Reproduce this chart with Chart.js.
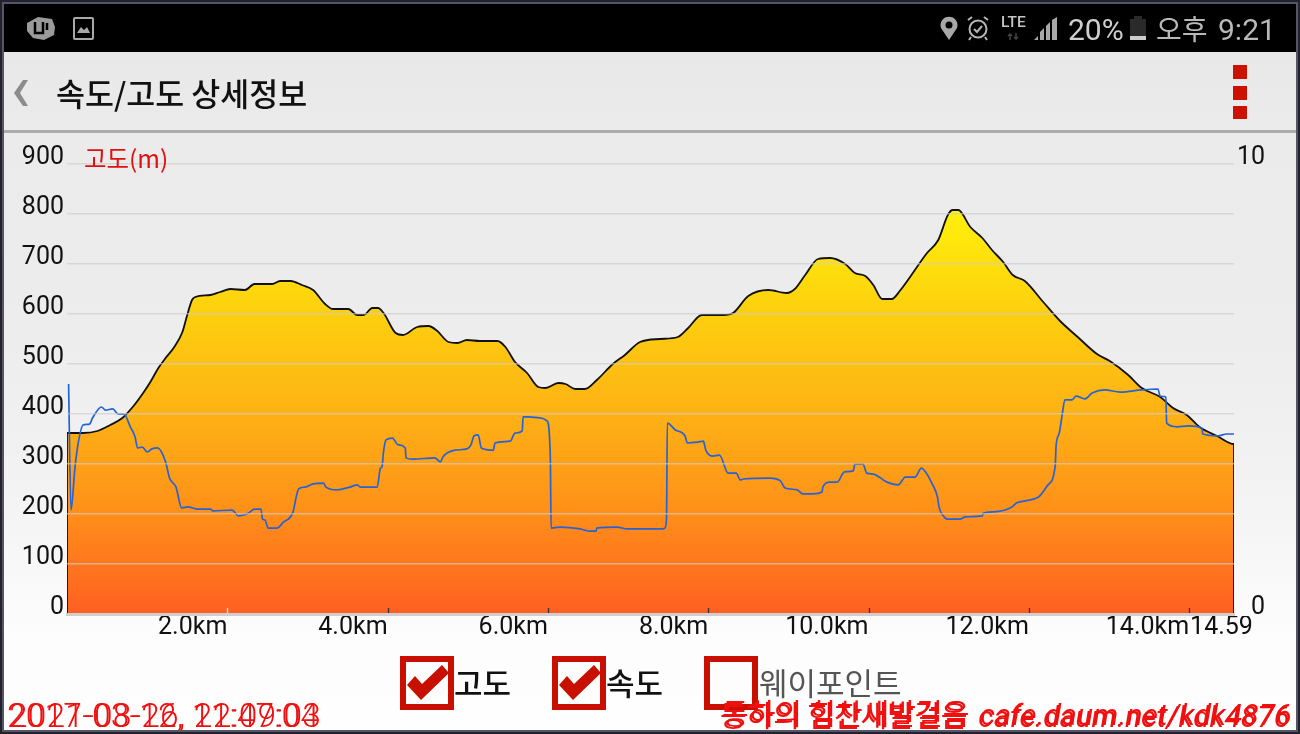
<!DOCTYPE html>
<html><head><meta charset="utf-8">
<script src="https://cdn.jsdelivr.net/npm/chart.js@4"></script>
<style>
html,body{margin:0;padding:0;width:1300px;height:734px;overflow:hidden;background:#fff;font-family:Roboto,"Noto Sans CJK KR",sans-serif}
#bg{position:absolute;left:0;top:0;width:1300px;height:734px;background:linear-gradient(180deg,#e8e8e8 0,#e8e8e8 52px,#ebebeb 131px,#ececec 300px,#f2f2f2 480px,#fdfdfd 640px,#fefefe 734px)}
#status{position:absolute;left:0;top:0;width:1300px;height:52px;background:#000}
#hline{position:absolute;left:0;top:130px;width:1300px;height:3px;background:#acacac}
#frame{position:absolute;left:0;top:0;width:1300px;height:734px;box-sizing:border-box;border:2px solid #22222c;box-shadow:inset 0 0 0 2px #55556a;pointer-events:none;z-index:5}
canvas{position:absolute;left:0;top:0}
.t{position:absolute;white-space:nowrap;line-height:1}
.kr{font-family:'Noto Sans CJK KR'}
.box{position:absolute;top:656px;width:54px;height:54px;box-sizing:border-box;border:6px solid #c80f00}
svg{position:absolute;overflow:visible}
.wm{color:#f01010;font-size:29px;font-family:Roboto,'Noto Sans CJK KR'}
.wm i{font-style:italic;font-weight:400;margin-left:11px;letter-spacing:.6px}
</style></head><body>
<div id="bg"></div><div id="status"></div><div id="hline"></div>
<canvas id="c" width="1300" height="734"></canvas>

<svg style="left:0;top:0" width="1300" height="134">
 <path d="M27 23 L38 17 L52 19 L55 27 L54 35 L44 40 L33 38 L27 31Z" fill="#9a9a9a"/><path d="M35 22v11h8V22M47 23v7" stroke="#000" stroke-width="2.5" fill="none"/>
 <rect x="74" y="18" width="19" height="21" rx="1" fill="none" stroke="#a8a8a8" stroke-width="2"/><path d="M77 33 L81 27 L84 30 L87 27 L90 33Z" fill="#a8a8a8"/>
 <path d="M949 40 L941 28 A8.5 8.5 0 1 1 957 28Z" fill="#a8a8a8"/><circle cx="949" cy="25" r="3.5" fill="#000"/>
 <circle cx="978" cy="29" r="8.5" fill="none" stroke="#b5b5b5" stroke-width="2"/><path d="M974 29l3 3 5-6M968 20l4-3M988 20l-4-3M971 37l-2 3M985 37l2 3" stroke="#b5b5b5" stroke-width="2" fill="none"/>
 <path d="M1010 40v-6M1008 36l2-2 2 2M1016 33v6M1014 37l2 2 2-2" stroke="#444" stroke-width="1.5" fill="none"/>
 <path d="M1034 40 L1038 36 V40Z M1040 40 V32 L1044 28 V40Z M1046 40 V26 L1050 22 V40Z M1052 40 V20 L1057 17 V40Z" fill="#a8a8a8"/>
 <rect x="1130" y="19" width="16" height="21" fill="#2a2a2a"/><rect x="1134" y="16" width="8" height="3" fill="#2a2a2a"/><rect x="1130" y="36" width="16" height="4" fill="#ccc"/>
 <path d="M23 80 L14 93 L23 106 L28 106 L20 93 L28 80Z" fill="#8c8c8c"/>
 <rect x="1233" y="65" width="14" height="14" fill="#cc1100"/><rect x="1233" y="86" width="14" height="14" fill="#cc1100"/><rect x="1233" y="106" width="14" height="13" fill="#cc1100"/>
</svg>
<div class="t" style="left:1001px;top:15px;font-size:15.5px;font-weight:500;color:#c4c4c4">LTE</div>
<div class="t" style="left:1068px;top:15px;font-size:30px;color:#cfcfcf">20%</div>
<div class="t kr" style="left:1156px;top:14px;font-size:28px;color:#b8b8b8">오후</div>
<div class="t" style="left:1218px;top:15px;font-size:30px;color:#b8b8b8">9:21</div>
<div class="t kr" style="left:56px;top:77px;font-size:31.5px;font-weight:500;color:#111">속도/고도 상세정보</div>
<div class="t kr" style="left:84px;top:146px;font-size:24.5px;color:#e01010">고도(m)</div>

<div class="box" style="left:400px"></div><div class="box" style="left:552px"></div><div class="box" style="left:704px"></div>
<svg style="left:0;top:0" width="1300" height="734">
 <path d="M407 685 L415 676 L422 684 L442 665 L449 673 L421 700Z" fill="#c81000"/>
 <path d="M559 685 L567 676 L574 684 L594 665 L601 673 L573 700Z" fill="#c81000"/>
</svg>
<div class="t kr" style="left:454px;top:666px;font-size:31px;font-weight:500;color:#111">고도</div>
<div class="t kr" style="left:606px;top:666px;font-size:31px;font-weight:500;color:#111">속도</div>
<div class="t kr" style="left:759px;top:666px;font-size:31px;color:#555">웨이포인트</div>

<div class="t" style="left:7px;top:699px;font-size:33.5px;letter-spacing:.2px;color:#f01010;font-weight:300">2017-03-12, 11:47:04</div>
<div class="t" style="left:9px;top:699px;font-size:33.5px;letter-spacing:.2px;color:#f01010;font-weight:300">2021-08-26, 22:09:03</div>
<div class="t wm" style="left:720px;top:703px">동하의 힘찬새발걸음<i>cafe.daum.net/kdk4876</i></div>
<div class="t wm" style="left:722px;top:701px">통하의 힘찬새발걸음<i>cafe.daum.net/kdk4876</i></div>
<div id="frame"></div>

<script>
const altKm=[0,0,0.20,0.38,0.54,0.69,0.83,0.95,1.04,1.14,1.23,1.33,1.44,1.50,1.56,1.60,1.79,1.91,2.04,2.22,2.34,2.56,2.66,2.79,2.93,3.07,3.22,3.32,3.41,3.51,3.62,3.70,3.81,3.88,3.95,4.10,4.19,4.37,4.51,4.62,4.76,4.87,4.99,5.15,5.37,5.47,5.59,5.74,5.88,5.97,6.13,6.22,6.34,6.46,6.61,6.81,6.96,7.15,7.40,7.62,7.75,7.92,8.19,8.31,8.50,8.75,8.98,9.08,9.21,9.37,9.52,9.71,9.83,9.96,10.06,10.17,10.29,10.39,10.73,10.87,10.99,11.05,11.12,11.27,11.42,11.54,11.68,11.80,11.95,12.18,12.39,12.61,12.85,13.01,13.24,13.41,13.64,13.80,13.97,14.13,14.35,14.56,14.56];
const altM=[0,362,362,366,378,392,416,442,464,492,512,532,564,598,628,634,638,644,650,648,660,660,666,666,658,648,620,610,610,610,598,598,612,612,602,562,558,574,576,566,544,542,548,546,546,534,504,482,454,452,462,460,450,450,468,500,518,544,550,554,572,598,598,602,636,648,642,650,678,710,712,700,682,676,658,630,630,646,722,748,798,808,808,774,752,728,704,678,666,624,586,554,520,506,478,452,434,412,398,374,356,340,0];
const speedKm=[0.02,0.05,0.10,0.14,0.20,0.28,0.32,0.43,0.48,0.57,0.64,0.71,0.79,0.85,0.88,0.94,1.00,1.06,1.13,1.23,1.28,1.36,1.43,1.51,1.63,1.79,1.82,2.06,2.14,2.26,2.34,2.42,2.44,2.47,2.51,2.62,2.70,2.82,2.86,2.89,2.97,3.07,3.20,3.23,3.37,3.53,3.62,3.66,3.87,3.91,3.93,3.95,3.98,4.06,4.13,4.22,4.23,4.31,4.59,4.66,4.69,4.84,4.99,5.04,5.08,5.13,5.17,5.32,5.34,5.53,5.59,5.68,5.69,5.75,5.90,5.99,6.03,6.04,6.15,6.40,6.53,6.60,6.61,6.86,6.99,7.43,7.46,7.48,7.49,7.59,7.71,7.74,7.87,7.94,7.97,8.05,8.14,8.25,8.35,8.40,8.44,8.77,8.90,8.96,9.11,9.18,9.31,9.42,9.43,9.52,9.61,9.70,9.81,9.83,9.93,9.98,10.06,10.23,10.37,10.46,10.58,10.66,10.71,10.79,10.86,10.88,10.96,10.98,11.14,11.21,11.42,11.43,11.56,11.79,11.85,12.12,12.24,12.33,12.34,12.38,12.42,12.45,12.54,12.59,12.70,12.79,12.95,13.14,13.41,13.61,13.64,13.71,13.72,13.85,13.99,14.16,14.17,14.36,14.47,14.56];
const speedV=[5.11,2.31,3.27,3.80,4.20,4.22,4.36,4.60,4.53,4.56,4.44,4.44,4.16,3.93,3.69,3.71,3.60,3.67,3.69,3.38,3.02,2.82,2.36,2.38,2.33,2.33,2.29,2.31,2.18,2.24,2.33,2.33,2.11,2.09,1.91,1.91,2.04,2.27,2.60,2.78,2.82,2.89,2.91,2.82,2.76,2.82,2.87,2.82,2.82,3.24,3.27,3.62,3.87,3.91,3.76,3.69,3.47,3.44,3.47,3.38,3.49,3.64,3.67,3.76,3.96,3.98,3.69,3.64,3.80,3.84,4.02,4.07,4.38,4.38,4.36,4.29,3.49,1.91,1.93,1.89,1.84,1.84,1.91,1.93,1.89,1.89,1.91,2.13,4.24,4.09,3.96,3.80,3.82,3.84,3.64,3.51,3.53,3.13,3.13,2.98,3.00,3.02,2.96,2.80,2.76,2.67,2.67,2.71,2.82,2.93,2.93,3.16,3.18,3.33,3.33,3.13,3.11,2.93,2.87,3.04,3.04,3.24,3.16,2.91,2.60,2.38,2.13,2.11,2.11,2.16,2.18,2.24,2.27,2.38,2.47,2.60,2.87,3.31,3.73,4.02,4.47,4.76,4.76,4.84,4.78,4.91,4.98,4.93,4.98,5.00,4.84,4.82,4.24,4.16,4.18,4.13,4.00,3.96,4.00,4.00];
const xTicks=[2,4,6,8,10,12,14];
const xMax=14.56, endLabel='14.59km';
const font={family:'Roboto,"Noto Sans CJK KR"',size:25};

const altGradient=c=>{
  const a=c.chart.chartArea; if(!a) return '#fc0';
  const y=c.chart.scales.y;
  const g=c.chart.ctx.createLinearGradient(0,y.getPixelForValue(808),0,y.getPixelForValue(0));
  g.addColorStop(0,'#fff00a');g.addColorStop(.25,'#fdd00e');g.addColorStop(.5,'#feb214');g.addColorStop(.75,'#ff8f19');g.addColorStop(1,'#ff5f22');
  return g;
};
const axisMarks={id:'axisMarks',afterDraw(ch){
  const {ctx,scales:{x},chartArea:a}=ch;
  ctx.save();
  xTicks.forEach((v,i)=>{
    const p=Math.round(x.getPixelForValue(v))+.5;
    ctx.strokeStyle=i===0?'#e8e8e8':'#333';ctx.lineWidth=1.3;
    ctx.beginPath();ctx.moveTo(p,a.bottom-6);ctx.lineTo(p,a.bottom-1);ctx.stroke();
  });
  ctx.beginPath();ctx.rect(1150,a.bottom+2,104,40);ctx.clip();
  ctx.font='25px Roboto';ctx.fillStyle='#111';ctx.textAlign='left';ctx.textBaseline='alphabetic';
  ctx.fillText(endLabel,x.getPixelForValue(14)+1,634);
  ctx.restore();
}};
new Chart(document.getElementById('c'),{
  type:'line',
  data:{datasets:[
    {label:'속도',yAxisID:'y2',order:0,data:speedKm.map((k,i)=>({x:k,y:speedV[i]})),borderColor:'#2563d6',borderWidth:1.7,pointRadius:0,cubicInterpolationMode:'monotone',fill:false},
    {label:'고도',yAxisID:'y',order:1,data:altKm.map((k,i)=>({x:k,y:altM[i]})),borderColor:'#111',borderWidth:1.8,pointRadius:0,cubicInterpolationMode:'monotone',fill:'origin',backgroundColor:altGradient}
  ]},
  plugins:[axisMarks],
  options:{
    responsive:false,animation:false,
    layout:{padding:{top:164,left:0,right:35,bottom:0}},
    plugins:{legend:{display:false},tooltip:{enabled:false}},
    scales:{
      x:{type:'linear',min:0,max:xMax,
        afterBuildTicks:ax=>{ax.ticks=xTicks.map(v=>({value:v}))},
        afterFit:ax=>{ax.height=120},
        ticks:{align:'end',autoSkip:false,maxRotation:0,color:'#111',font,padding:-1,callback:v=>v.toFixed(1)+'km'},
        grid:{drawOnChartArea:false,drawTicks:false},
        border:{color:'#cfcfcf',width:3,z:2}},
      y:{position:'left',min:0,max:900,
        afterFit:ax=>{ax.width=67},
        ticks:{stepSize:100,color:'#111',font,padding:3,labelOffset:-6},
        grid:{color:'rgba(205,205,205,.65)',lineWidth:1.5,z:1,drawTicks:false},
        border:{display:false}},
      y2:{position:'right',min:0,max:10,
        afterFit:ax=>{ax.width=31},
        afterBuildTicks:ax=>{ax.ticks=[{value:0},{value:10}]},
        ticks:{crossAlign:'far',color:'#111',font,padding:3,labelOffset:-6},
        grid:{drawOnChartArea:false,drawTicks:false},
        border:{display:false}}
    }
  }
});
</script>
</body></html>
